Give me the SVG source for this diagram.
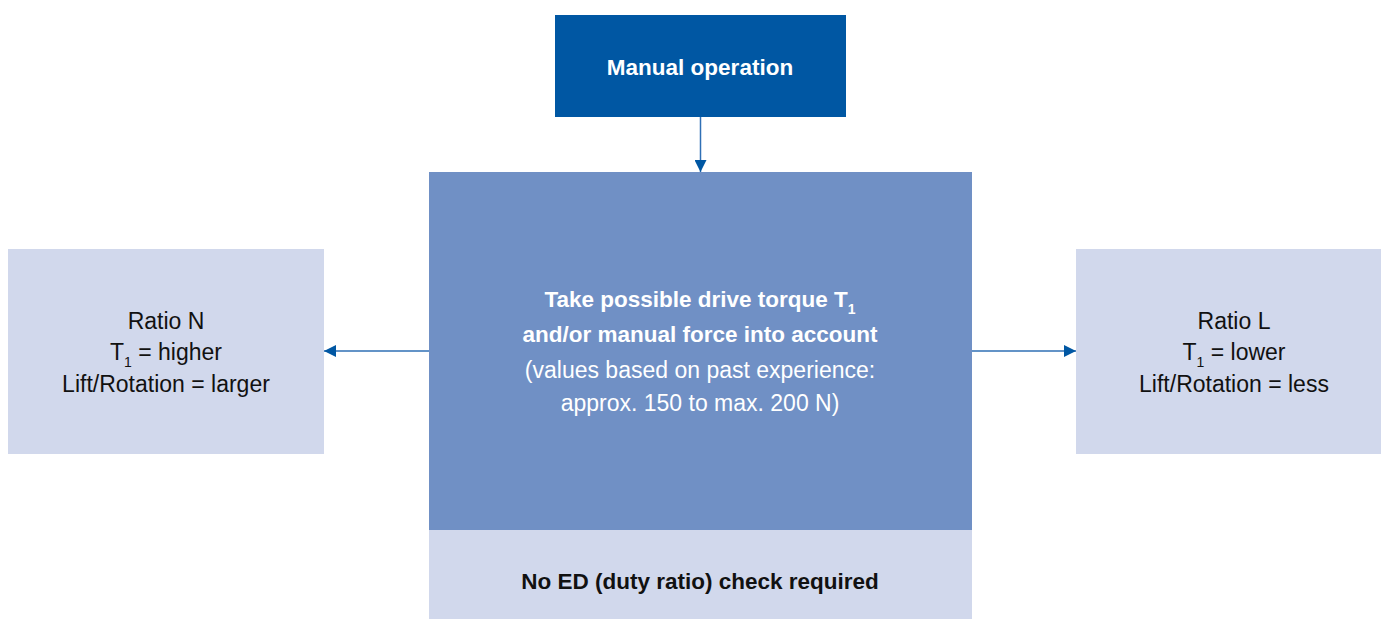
<svg xmlns="http://www.w3.org/2000/svg" width="1381" height="619" viewBox="0 0 1381 619">
<defs>
<style>
text{font-family:"Liberation Sans",Arial,sans-serif;text-anchor:middle}
.b{font-weight:bold;font-size:22.5px}
.r{font-size:23px}
.w{fill:#ffffff}
.k{fill:#111111}
.sub{font-size:14px}
.conn{stroke:#2f6fb5;stroke-width:1.5;fill:none}
</style>
<marker id="ah" viewBox="0 0 12 12" refX="12" refY="6" markerWidth="12" markerHeight="12" markerUnits="userSpaceOnUse" orient="auto">
<path d="M0,0 L12,6 L0,12 z" fill="#0057a3"/>
</marker>
</defs>
<rect width="1381" height="619" fill="#ffffff"/>
<g id="manual">
<rect x="555" y="15" width="291" height="102" fill="#0057a3"/>
<text class="b w" x="700" y="75">Manual operation</text>
</g>
<g id="center">
<rect x="429" y="172" width="543" height="358" fill="#7090c5"/>
<text class="b w" x="700" y="307">Take possible drive torque T<tspan class="sub" dy="7">1</tspan></text>
<text class="b w" x="700" y="342">and/or manual force into account</text>
<text class="r w" x="700" y="378">(values based on past experience:</text>
<text class="r w" x="700" y="411">approx. 150 to max. 200 N)</text>
</g>
<g id="noed">
<rect x="429" y="530" width="543" height="89" fill="#d1d8ec"/>
<text class="b k" x="700" y="589">No ED (duty ratio) check required</text>
</g>
<g id="ratioN">
<rect x="8" y="249" width="316" height="205" fill="#d1d8ec"/>
<text class="r k" x="166" y="329">Ratio N</text>
<text class="r k" x="166" y="360">T<tspan class="sub" dy="7">1</tspan><tspan dy="-7"> = higher</tspan></text>
<text class="r k" x="166" y="392">Lift/Rotation = larger</text>
</g>
<g id="ratioL">
<rect x="1076" y="249" width="305" height="205" fill="#d1d8ec"/>
<text class="r k" x="1234" y="329">Ratio L</text>
<text class="r k" x="1234" y="360">T<tspan class="sub" dy="7">1</tspan><tspan dy="-7"> = lower</tspan></text>
<text class="r k" x="1234" y="392">Lift/Rotation = less</text>
</g>
<g id="connectors">
<line class="conn" x1="700.5" y1="117" x2="700.5" y2="172" marker-end="url(#ah)"/>
<line class="conn" x1="429" y1="351" x2="324" y2="351" marker-end="url(#ah)"/>
<line class="conn" x1="972" y1="351" x2="1076" y2="351" marker-end="url(#ah)"/>
</g>
</svg>
